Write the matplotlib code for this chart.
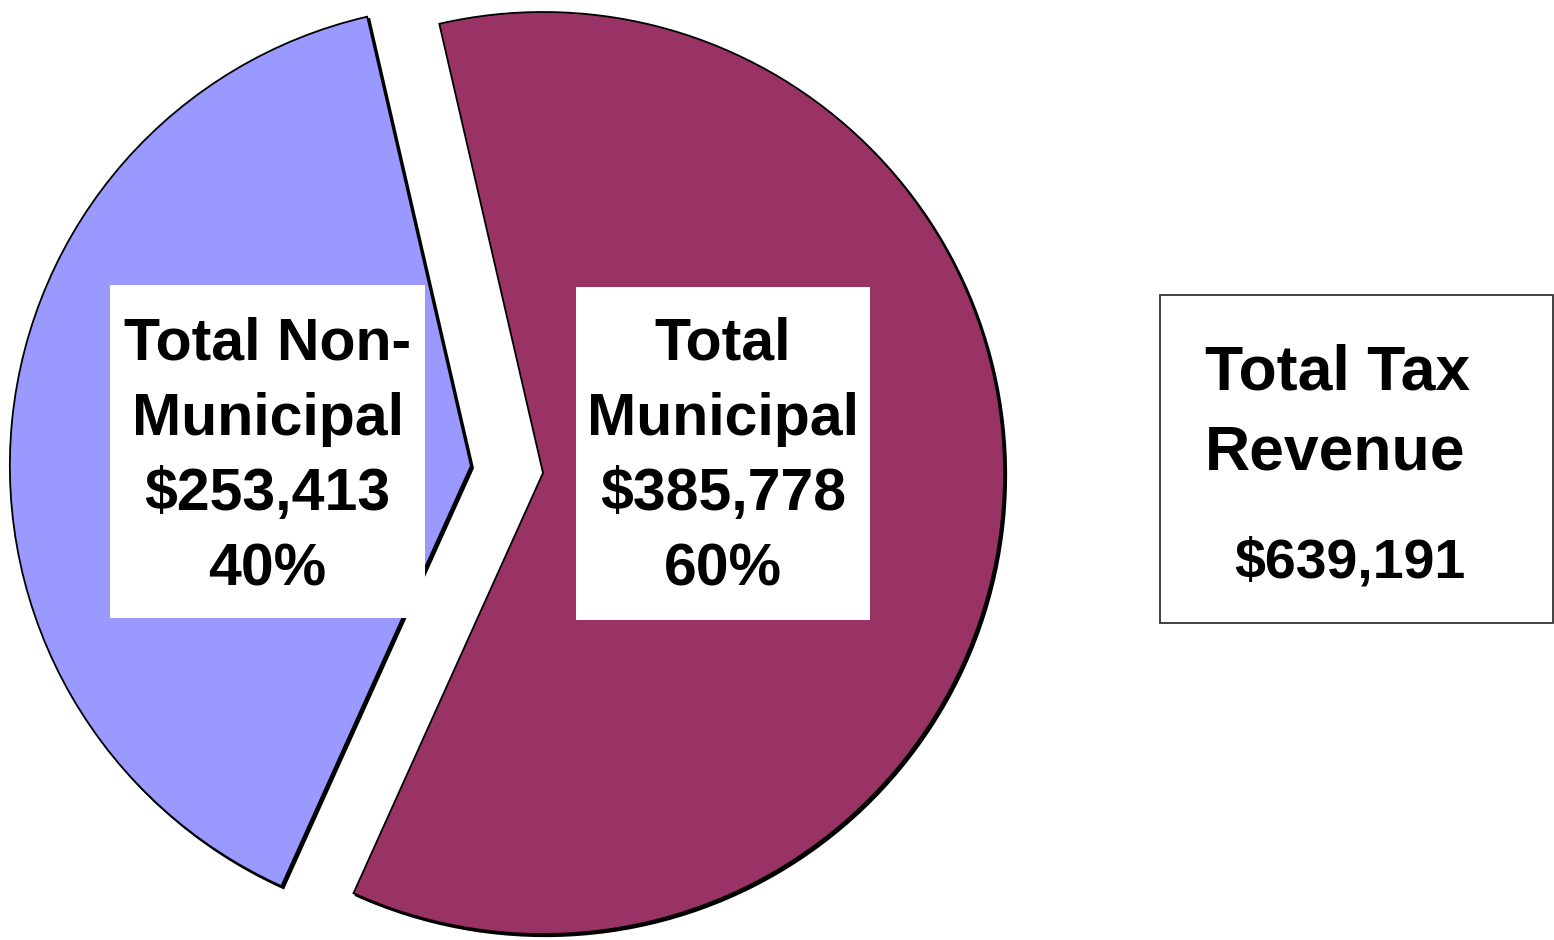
import matplotlib
matplotlib.use("Agg")
import matplotlib.pyplot as plt
from matplotlib.patches import Rectangle, Shadow

# ---- data ----
labels = ["Total\nMunicipal", "Total Non-\nMunicipal"]
values = [385778, 253413]
total_title = ["Total Tax", "Revenue"]
total_value = 639191
colors = ["#993366", "#9999FF"]

W, H = 1554, 940
fig = plt.figure(figsize=(W / 100, H / 100), dpi=100)
ax = fig.add_axes([0, 0, 1, 1])


def Y(y):
    return H - y


wedges, _ = ax.pie(values, colors=colors, startangle=103, counterclock=False,
                   explode=[0, 72.5], center=(543, Y(473)), radius=461,
                   frame=True,
                   wedgeprops=dict(edgecolor="black", linewidth=1.3))
ax.set_xlim(0, W)
ax.set_ylim(0, H)
ax.set_aspect("equal")
ax.axis("off")
for w in wedges:
    s = Shadow(w, 1.6, -1.6, facecolor="black", edgecolor="black", alpha=1)
    s.set_zorder(w.get_zorder() - 0.5)
    ax.add_patch(s)

font = "Liberation Sans"

total = sum(values)
boxes = [(576, 287, 870, 620), (110, 285, 425, 618)]
baselines = [359, 435, 510, 585]
for lab, v, (x0, y0, x1, y1) in zip(labels, values, boxes):
    ax.add_patch(Rectangle((x0, Y(y1)), x1 - x0, y1 - y0, facecolor="white",
                           edgecolor="none", zorder=5))
    lines = lab.split("\n") + [f"${v:,}", f"{round(100 * v / total)}%"]
    cx = (x0 + x1) / 2
    for ln, by in zip(lines, baselines):
        ax.text(cx, Y(by), ln, ha="center", va="baseline", fontsize=42.5,
                fontweight="bold", family=font, zorder=6)

# Total box
ax.add_patch(Rectangle((1160, Y(623)), 1553 - 1160, 623 - 295, facecolor="white",
                       edgecolor="#333333", linewidth=1.3, zorder=5))
for ln, by in zip(total_title, [390, 470]):
    ax.text(1205, Y(by), ln, ha="left", va="baseline", fontsize=45,
            fontweight="bold", family=font, zorder=6)
ax.text(1350, Y(578), f"${total_value:,}", ha="center", va="baseline",
        fontsize=40, fontweight="bold", family=font, zorder=6)

fig.savefig("out.png", dpi=100)
